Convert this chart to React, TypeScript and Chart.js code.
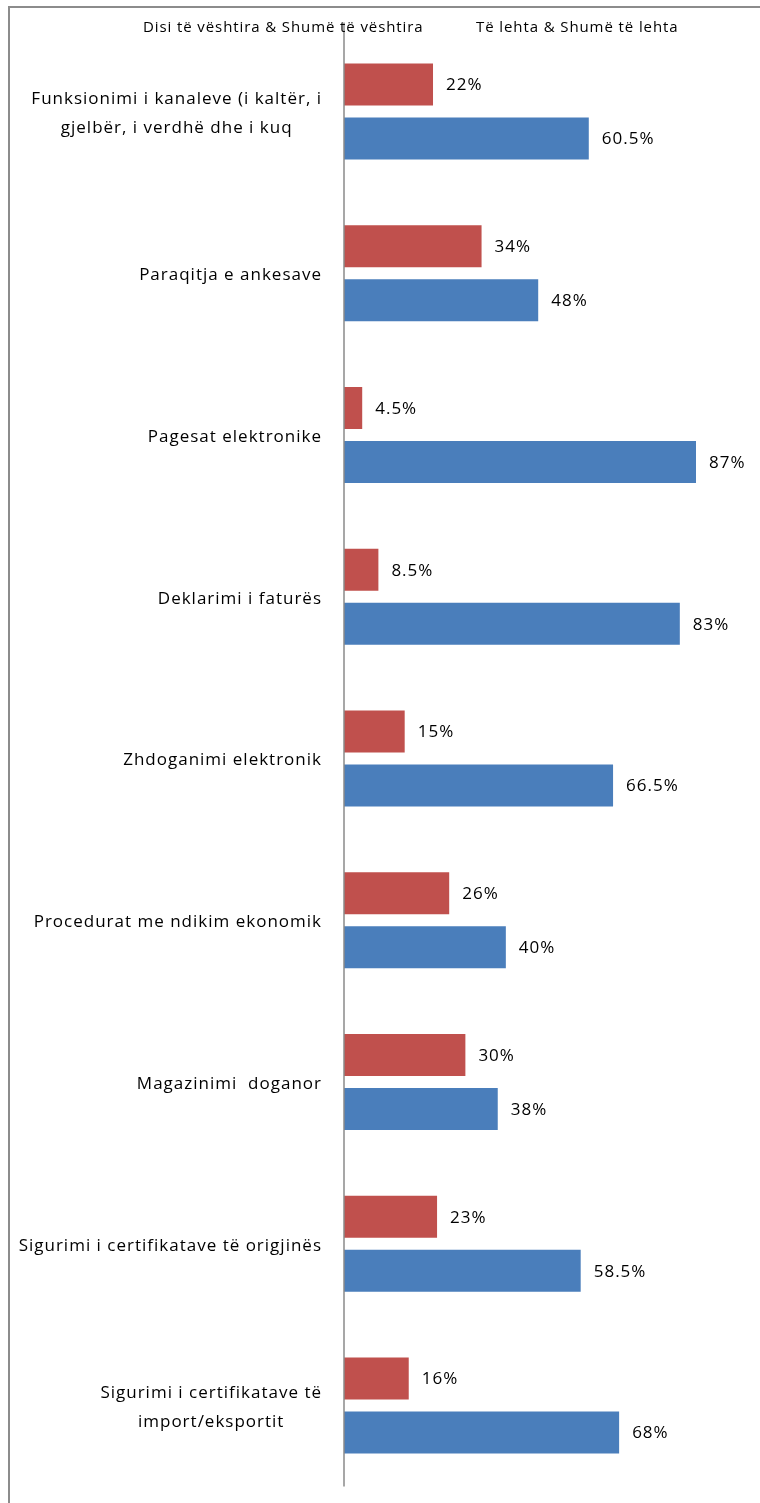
import React, { useEffect, useRef } from "react";
import { Chart, registerables } from "chart.js";

Chart.register(...registerables);

const categories: (string | string[])[] = [
  ["Funksionimi i kanaleve (i kaltër, i", "gjelbër, i verdhë dhe i kuq"],
  "Paraqitja e ankesave",
  "Pagesat elektronike",
  "Deklarimi i faturës",
  "Zhdoganimi elektronik",
  "Procedurat me ndikim ekonomik",
  "Magazinimi  doganor",
  "Sigurimi i certifikatave të origjinës",
  ["Sigurimi i certifikatave të", "import/eksportit"],
];

const seriesNames = [
  "Disi të vështira & Shumë të vështira",
  "Të lehta & Shumë të lehta",
];

const difficultValues = [22, 34, 4.5, 8.5, 15, 26, 30, 23, 16];
const easyValues = [60.5, 48, 87, 83, 66.5, 40, 38, 58.5, 68];

const RED = "#C0504D";
const BLUE = "#4A7EBB";
const FONT = '"Open Sans", sans-serif';
const W = 760;
const H = 1503;

const framePlugin = {
  id: "frame",
  beforeDraw(chart: any) {
    const ctx = chart.ctx;
    ctx.save();
    ctx.fillStyle = "#fff";
    ctx.fillRect(0, 0, W, H);
    ctx.fillStyle = "#8c8c8c";
    ctx.fillRect(8, 6, W - 8, 2);
    ctx.fillRect(8, 6, 2, H - 6);
    ctx.restore();
  },
};

const customPlugin = {
  id: "customDraw",
  afterDatasetsDraw(chart: any) {
    const ctx: any = chart.ctx;
    const area = chart.chartArea;
    const xScale = chart.scales.x;
    const yScale = chart.scales.y;
    const x0 = xScale.getPixelForValue(0);
    ctx.save();

    // vertical axis line
    ctx.strokeStyle = "#8a8a8a";
    ctx.lineWidth = 1.5;
    ctx.beginPath();
    ctx.moveTo(x0, area.top - 8);
    ctx.lineTo(x0, area.bottom);
    ctx.stroke();

    // category labels
    ctx.fillStyle = "#000";
    ctx.font = `17px ${FONT}`;
    ctx.letterSpacing = "1px";
    ctx.textBaseline = "middle";
    ctx.textAlign = "left";
    categories.forEach((lab, i) => {
      const lines = Array.isArray(lab) ? lab : [lab];
      const widths = lines.map((l) => ctx.measureText(l).width);
      const blockW = Math.max(...widths);
      const right = x0 - 22;
      const cx = right - blockW / 2;
      const yc = yScale.getPixelForValue(i);
      const lh = 29;
      lines.forEach((l, j) => {
        ctx.fillText(l, cx - widths[j] / 2, yc + (j - (lines.length - 1) / 2) * lh + 2);
      });
    });

    // value labels
    ctx.textAlign = "left";
    chart.data.datasets.forEach((ds: any, di: number) => {
      const meta = chart.getDatasetMeta(di);
      meta.data.forEach((bar: any, i: number) => {
        ctx.fillText(`${ds.data[i]}%`, bar.x + 13, bar.y + 1);
      });
    });

    // legend (text only)
    ctx.font = `15px ${FONT}`;
    ctx.letterSpacing = "0.9px";
    ctx.textAlign = "left";
    ctx.fillText(seriesNames[0], 143, 28);
    ctx.fillText(seriesNames[1], 476, 28);

    ctx.restore();
  },
};

export default function App() {
  const ref = useRef<HTMLCanvasElement | null>(null);

  useEffect(() => {
    if (!ref.current) return;
    const chart = new Chart(ref.current, {
      type: "bar",
      data: {
        labels: categories as any,
        datasets: [
          {
            label: seriesNames[0],
            data: difficultValues,
            backgroundColor: RED,
            borderWidth: 0,
            categoryPercentage: 0.668,
            barPercentage: 0.78,
          },
          {
            label: seriesNames[1],
            data: easyValues,
            backgroundColor: BLUE,
            borderWidth: 0,
            categoryPercentage: 0.668,
            barPercentage: 0.78,
          },
        ],
      },
      options: {
        indexAxis: "y",
        animation: false,
        responsive: false,
        devicePixelRatio: 1,
        layout: { padding: { top: 30.6, bottom: 16.6, left: 344, right: 11.4 } },
        scales: {
          x: { display: false, min: 0, max: 100 },
          y: { display: false },
        },
        plugins: {
          legend: { display: false },
          tooltip: { enabled: false },
        },
      },
      plugins: [framePlugin, customPlugin],
    });
    return () => chart.destroy();
  }, []);

  return (
    <canvas
      ref={ref}
      width={W}
      height={H}
      style={{ position: "fixed", left: 0, top: 0, width: W, height: H, display: "block" }}
    />
  );
}
